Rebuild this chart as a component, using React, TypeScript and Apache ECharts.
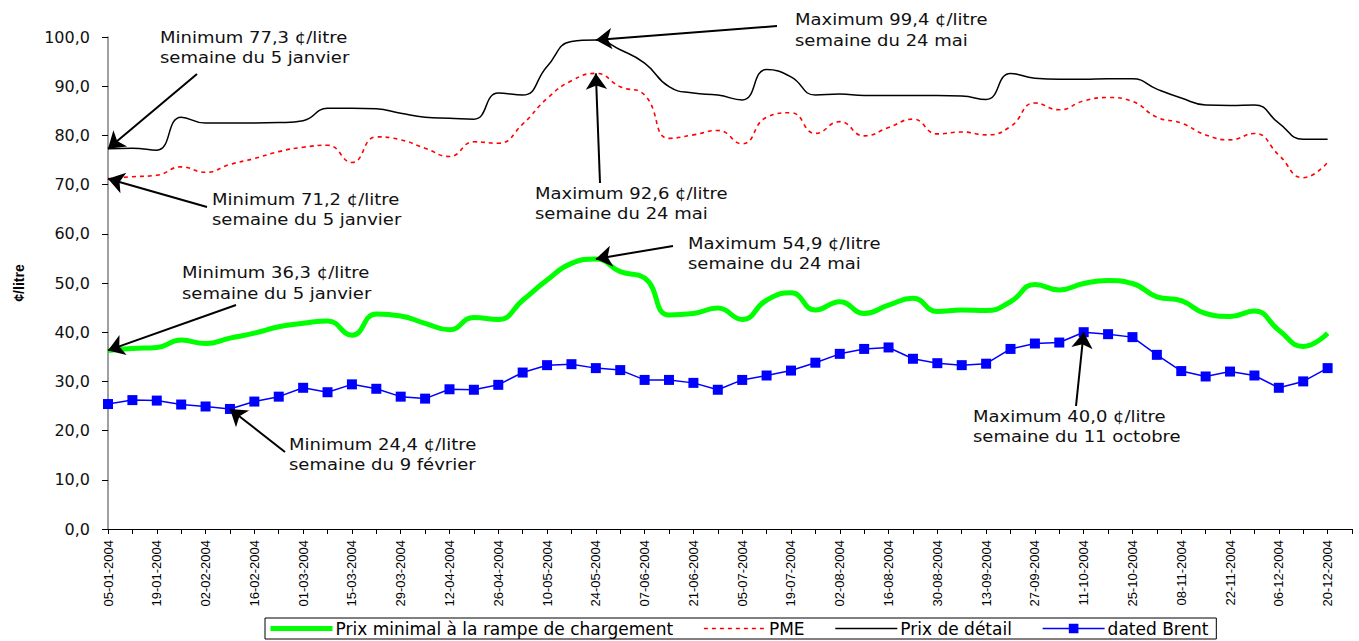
import React, { useEffect, useRef } from "react";
import * as echarts from "echarts";

const weeks = [
  "05-01-2004", "12-01-2004", "19-01-2004", "26-01-2004", "02-02-2004", "09-02-2004",
  "16-02-2004", "23-02-2004", "01-03-2004", "08-03-2004", "15-03-2004", "22-03-2004",
  "29-03-2004", "05-04-2004", "12-04-2004", "19-04-2004", "26-04-2004", "03-05-2004",
  "10-05-2004", "17-05-2004", "24-05-2004", "31-05-2004", "07-06-2004", "14-06-2004",
  "21-06-2004", "28-06-2004", "05-07-2004", "12-07-2004", "19-07-2004", "26-07-2004",
  "02-08-2004", "09-08-2004", "16-08-2004", "23-08-2004", "30-08-2004", "06-09-2004",
  "13-09-2004", "20-09-2004", "27-09-2004", "04-10-2004", "11-10-2004", "18-10-2004",
  "25-10-2004", "01-11-2004", "08-11-2004", "15-11-2004", "22-11-2004", "29-11-2004",
  "06-12-2004", "13-12-2004", "20-12-2004", "27-12-2004",
];

const prixMinimal = [
  36.3, 36.7, 36.9, 38.4, 37.7, 38.8, 39.8, 41.1, 41.8, 42.3, 39.4, 43.7, 43.3,
  41.8, 40.5, 43.0, 42.6, 46.5, 50.6, 54.0, 54.9, 52.3, 51.0, 43.5, 43.8, 44.9,
  42.6, 46.5, 48.0, 44.5, 46.2, 43.8, 45.5, 46.9, 44.2, 44.5, 44.4, 46.2, 49.7,
  48.6, 49.9, 50.5, 49.9, 47.2, 46.4, 43.8, 43.2, 44.3, 40.4, 37.1, 39.8,
];

const pme = [
  71.2, 71.6, 71.9, 73.6, 72.5, 74.1, 75.3, 76.7, 77.6, 78.0, 74.5, 79.7, 79.1,
  77.4, 75.7, 78.7, 78.4, 82.3, 87.5, 91.1, 92.6, 89.9, 88.2, 79.4, 80.1, 81.0,
  78.3, 83.7, 84.6, 80.4, 82.8, 79.9, 81.6, 83.3, 80.3, 80.7, 80.1, 81.8, 86.6,
  85.2, 87.0, 87.7, 86.9, 83.7, 82.5, 80.1, 79.1, 80.4, 76.0, 71.4, 74.5,
];

const prixDetail = [
  77.3, 77.4, 77.0, 83.7, 82.5, 82.5, 82.5, 82.6, 83.0, 85.5, 85.5, 85.4, 84.5,
  83.7, 83.5, 83.3, 88.6, 88.2, 94.0, 99.1, 99.4, 97.4, 94.7, 89.9, 88.6, 88.2,
  87.2, 93.4, 91.9, 88.2, 88.4, 88.1, 88.1, 88.1, 88.1, 88.0, 87.3, 92.6, 91.6,
  91.4, 91.4, 91.5, 91.5, 89.4, 87.6, 86.2, 86.1, 86.2, 82.5, 79.2, 79.2,
];

const datedBrent = [
  25.4, 26.2, 26.1, 25.3, 24.9, 24.4, 25.9, 26.9, 28.7, 27.8, 29.4, 28.5, 26.9,
  26.5, 28.4, 28.3, 29.3, 31.8, 33.3, 33.5, 32.7, 32.3, 30.3, 30.3, 29.7, 28.3,
  30.3, 31.2, 32.2, 33.8, 35.6, 36.6, 36.9, 34.6, 33.7, 33.3, 33.6, 36.6, 37.7,
  37.9, 40.0, 39.6, 39.0, 35.4, 32.1, 31.0, 32.0, 31.2, 28.7, 30.0, 32.7,
];

const seriesNames = [
  "Prix minimal à la rampe de chargement",
  "PME",
  "Prix de détail",
  "dated Brent",
];

// annotations: which series, which week, value pointed at, text
const annotations = [
  { series: 2, index: 0, value: 77.3, text: "Minimum 77,3 ¢/litre\nsemaine du 5 janvier" },
  { series: 1, index: 0, value: 71.2, text: "Minimum 71,2 ¢/litre\nsemaine du 5 janvier" },
  { series: 0, index: 0, value: 36.3, text: "Minimum 36,3 ¢/litre\nsemaine du 5 janvier" },
  { series: 3, index: 5, value: 24.4, text: "Minimum 24,4 ¢/litre\nsemaine du 9 février" },
  { series: 2, index: 20, value: 99.4, text: "Maximum 99,4 ¢/litre\nsemaine du 24 mai" },
  { series: 1, index: 20, value: 92.6, text: "Maximum 92,6 ¢/litre\nsemaine du 24 mai" },
  { series: 0, index: 20, value: 54.9, text: "Maximum 54,9 ¢/litre\nsemaine du 24 mai" },
  { series: 3, index: 40, value: 40.0, text: "Maximum 40,0 ¢/litre\nsemaine du 11 octobre" },
];

// layout of annotation labels and arrow tails (pixels)
const annotationLayout = [
  { tx: 160, ty: 38, ax: 197, ay: 74 },
  { tx: 212, ty: 200, ax: 207, ay: 207 },
  { tx: 182, ty: 273.5, ax: 236, ay: 305 },
  { tx: 289, ty: 445, ax: 285, ay: 452 },
  { tx: 795, ty: 20.5, ax: 777, ay: 26 },
  { tx: 535, ty: 194, ax: 600, ay: 183 },
  { tx: 688, ty: 244, ax: 673, ay: 246 },
  { tx: 973, ty: 417, ax: 1076, ay: 406 },
];

const LINE_H = 20.5;

export default function App() {
  const ref = useRef<HTMLDivElement>(null);

  useEffect(() => {
    if (!ref.current) return;
    const chart = echarts.init(ref.current, undefined, { renderer: "svg" });

    const markLineFor = (s: number) => {
      const data: any[] = [];
      annotations.forEach((a, i) => {
        if (a.series !== s) return;
        const l = annotationLayout[i];
        data.push([{ x: l.ax, y: l.ay }, { coord: [a.index, a.value] }]);
      });
      return {
        silent: true,
        animation: false,
        symbol: ["none", "arrow"],
        symbolSize: 16,
        lineStyle: { color: "#000", width: 2, type: "solid" },
        label: { show: false },
        emphasis: { disabled: true },
        data,
      };
    };

    const graphic = annotations.map((a, i) => {
      const l = annotationLayout[i];
      return {
        type: "text",
        x: l.tx,
        y: l.ty - LINE_H / 2,
        scaleX: 1.2,
        silent: true,
        style: {
          text: a.text,
          fontFamily: "DejaVu Sans",
          fontSize: 15,
          lineHeight: LINE_H,
          fill: "#111",
          align: "left",
          verticalAlign: "top",
        },
      };
    });

    const hiddenSymbol = { opacity: 0 };

    const option: any = {
      animation: false,
      backgroundColor: "#fff",
      textStyle: { fontFamily: "Liberation Sans, Arial, sans-serif" },
      grid: { left: 108, right: 7, top: 37, bottom: 112, containLabel: false },
      legend: {
        left: 265,
        top: 618,
        orient: "horizontal",
        itemGap: 30,
        itemWidth: 62,
        itemHeight: 12,
        padding: [2, 8, 2, 3],
        borderColor: "#000",
        borderWidth: 1,
        selectedMode: false,
        lineStyle: { width: "inherit" },
        textStyle: { fontFamily: "DejaVu Sans", fontSize: 17, color: "#000", padding: [0, 0, 0, -2] },
        data: [
          { name: seriesNames[0], itemStyle: hiddenSymbol },
          { name: seriesNames[1], itemStyle: hiddenSymbol },
          { name: seriesNames[2], itemStyle: hiddenSymbol },
          { name: seriesNames[3] },
        ],
      },
      xAxis: {
        type: "category",
        data: weeks,
        boundaryGap: false,
        axisLine: { lineStyle: { color: "#000", width: 1 } },
        axisTick: { interval: 0, length: 5, lineStyle: { color: "#000" } },
        axisLabel: {
          interval: 1,
          rotate: 90,
          margin: 11,
          fontSize: 13,
          color: "#000",
          fontFamily: "Liberation Sans",
        },
        splitLine: { show: false },
      },
      yAxis: {
        type: "value",
        min: 0,
        max: 100,
        interval: 10,
        name: "¢/litre",
        nameLocation: "middle",
        nameGap: 82,
        nameTextStyle: { fontWeight: "bold", fontSize: 14, color: "#000", fontFamily: "Liberation Sans" },
        axisLine: { show: true, lineStyle: { color: "#808080", width: 1.5 } },
        axisTick: { show: true, length: 6, lineStyle: { color: "#000" } },
        axisLabel: {
          margin: 18,
          fontSize: 16,
          fontFamily: "DejaVu Sans",
          color: "#111",
          formatter: (v: number) => v.toFixed(1).replace(".", ","),
        },
        splitLine: { show: false },
      },
      series: [
        {
          name: seriesNames[0],
          type: "line",
          data: prixMinimal,
          smooth: 0.5,
          showSymbol: false,
          symbol: "none",
          lineStyle: { color: "#00ff00", width: 5 },
          itemStyle: { color: "#00ff00" },
          z: 2,
          markLine: markLineFor(0),
        },
        {
          name: seriesNames[1],
          type: "line",
          data: pme,
          smooth: 0.5,
          showSymbol: false,
          symbol: "none",
          lineStyle: { color: "#ff0000", width: 1.6, type: [4, 4] },
          itemStyle: { color: "#ff0000" },
          z: 3,
          markLine: markLineFor(1),
        },
        {
          name: seriesNames[2],
          type: "line",
          data: prixDetail,
          smooth: 0.5,
          showSymbol: false,
          symbol: "none",
          lineStyle: { color: "#000", width: 1.5 },
          itemStyle: { color: "#000" },
          z: 3,
          markLine: markLineFor(2),
        },
        {
          name: seriesNames[3],
          type: "line",
          data: datedBrent,
          smooth: false,
          symbol: "rect",
          symbolSize: 10,
          showSymbol: true,
          lineStyle: { color: "#0000ff", width: 1.5 },
          itemStyle: { color: "#0000ff" },
          z: 4,
          markLine: markLineFor(3),
        },
      ],
      graphic,
    };

    chart.setOption(option);
    return () => chart.dispose();
  }, []);

  return (
    <div
      ref={ref}
      style={{ position: "fixed", left: 0, top: 0, width: 1359, height: 641, background: "#fff" }}
    />
  );
}
